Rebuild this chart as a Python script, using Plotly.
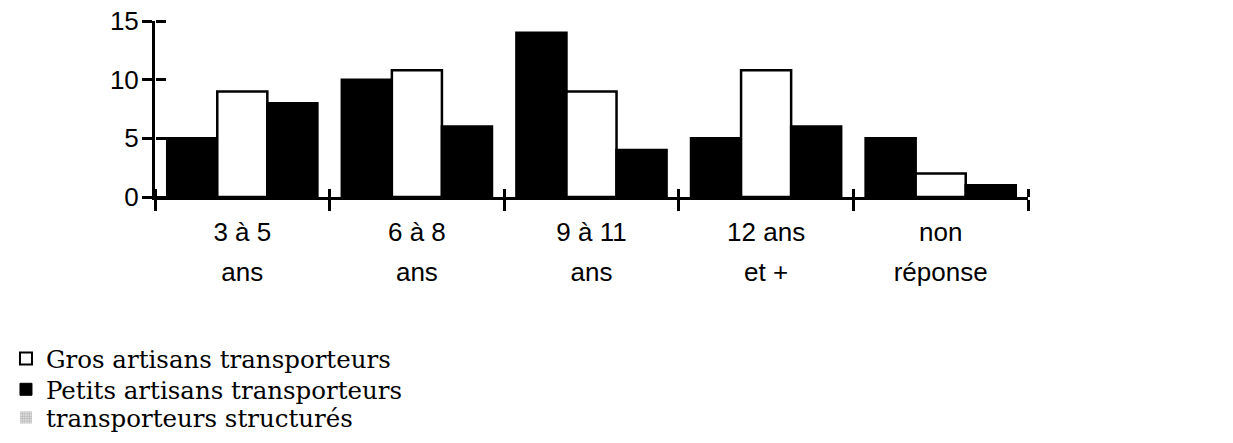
import plotly.graph_objects as go

# Age groups (two-line labels under each group)
categories = ["3 à 5 ans", "6 à 8 ans", "9 à 11 ans", "12 ans et +", "non réponse"]
labels_line1 = ["3 à 5", "6 à 8", "9 à 11", "12 ans", "non"]
labels_line2 = ["ans", "ans", "ans", "et +", "réponse"]

# Series values
petits = [5, 10, 14, 5, 5]
gros = [9, 10.8, 9, 10.8, 2]
structures = [8, 6, 4, 6, 1]

y_ticks = [0, 5, 10, 15]
boundaries = [-0.5, 0.5, 1.5, 2.5, 3.5, 4.5]
centers = [0, 1, 2, 3, 4]

SANS = "Liberation Sans, Arial, sans-serif"
SERIF = "DejaVu Serif, serif"
LINE = dict(color="black", width=2.5)

fig = go.Figure()

# Bars (legend shown through separate entries below)
fig.add_trace(go.Bar(x=categories, y=petits, name="Petits artisans transporteurs",
                     marker=dict(color="black", line=LINE), showlegend=False))
fig.add_trace(go.Bar(x=categories, y=gros, name="Gros artisans transporteurs",
                     marker=dict(color="white", line=LINE), showlegend=False))
fig.add_trace(go.Bar(x=categories, y=structures, name="transporteurs structurés",
                     marker=dict(color="black", line=LINE), showlegend=False))

# Legend entries, one legend box per line
fig.add_trace(go.Bar(x=[None], y=[None], xaxis="x3", yaxis="y",
                     name="Gros artisans transporteurs", legend="legend",
                     marker=dict(color="white", line=dict(color="black", width=2))))
fig.add_trace(go.Bar(x=[None], y=[None], xaxis="x3", yaxis="y",
                     name="Petits artisans transporteurs", legend="legend2",
                     marker=dict(color="black", line=dict(color="black", width=1))))
fig.add_trace(go.Bar(x=[None], y=[None], xaxis="x3", yaxis="y",
                     name="transporteurs structurés", legend="legend3",
                     marker=dict(color="white", line=dict(color="white", width=0),
                                 pattern=dict(shape=".", fgcolor="#777", bgcolor="#e8e8e8",
                                              size=3, solidity=0.5))))

# Empty traces so the extra tick axes (crossing ticks) are drawn
fig.add_trace(go.Scatter(x=[None], y=[None], xaxis="x2", yaxis="y",
                         showlegend=False, hoverinfo="skip"))
fig.add_trace(go.Scatter(x=[None], y=[None], xaxis="x", yaxis="y2",
                         showlegend=False, hoverinfo="skip"))

LEG_X = -0.1707
leg_common = dict(x=LEG_X, xanchor="left", yanchor="middle",
                  font=dict(family=SERIF, size=24.5, color="black"),
                  itemwidth=30, bgcolor="rgba(0,0,0,0)")

fig.update_layout(
    width=1233, height=443, autosize=False,
    margin=dict(l=155, r=205, t=21, b=246, pad=0, autoexpand=False),
    paper_bgcolor="white", plot_bgcolor="white",
    barmode="group", bargap=0.14, bargroupgap=0,
    showlegend=True,
    legend=dict(y=-0.918, **leg_common),
    legend2=dict(y=-1.093, **leg_common),
    legend3=dict(y=-1.253, **leg_common),
    xaxis=dict(type="category", categoryorder="array", categoryarray=categories,
               range=[-0.5, 4.5], tickmode="array", tickvals=categories,
               ticktext=labels_line1, tickson="boundaries",
               ticks="outside", ticklen=11, tickwidth=3, tickcolor="black",
               showline=True, linewidth=3, linecolor="black",
               showgrid=False, zeroline=False, ticklabelstandoff=10,
               tickfont=dict(family=SANS, size=26, color="black")),
    # Upward half of the crossing ticks: a top-side axis placed on the baseline
    xaxis2=dict(overlaying="x", anchor="free", position=0, side="top",
                range=[-0.5, 4.5], tickmode="array", tickvals=boundaries,
                ticks="outside", ticklen=8, tickwidth=3, tickcolor="black",
                showticklabels=False, showline=False, showgrid=False, zeroline=False),
    xaxis3=dict(overlaying="x", anchor="y", side="bottom", range=[-0.5, 4.5],
                tickmode="array", tickvals=centers, ticktext=labels_line2,
                ticks="", showline=False, showgrid=False, zeroline=False,
                ticklabelstandoff=57,
                tickfont=dict(family=SANS, size=26, color="black")),
    yaxis=dict(range=[0, 15], tickmode="array", tickvals=y_ticks,
               ticks="outside", ticklen=10, tickwidth=3, tickcolor="black",
               showline=True, linewidth=3, linecolor="black",
               showgrid=False, zeroline=False, ticklabelstandoff=-2,
               tickfont=dict(family=SANS, size=26, color="black")),
    # Rightward half of the crossing ticks: a right-side axis placed on the left edge
    yaxis2=dict(overlaying="y", anchor="free", position=0, side="right",
                range=[0, 15], tickmode="array", tickvals=y_ticks,
                ticks="outside", ticklen=10, tickwidth=3, tickcolor="black",
                showticklabels=False, showline=False, showgrid=False, zeroline=False),
)

fig.write_html("out.html")
